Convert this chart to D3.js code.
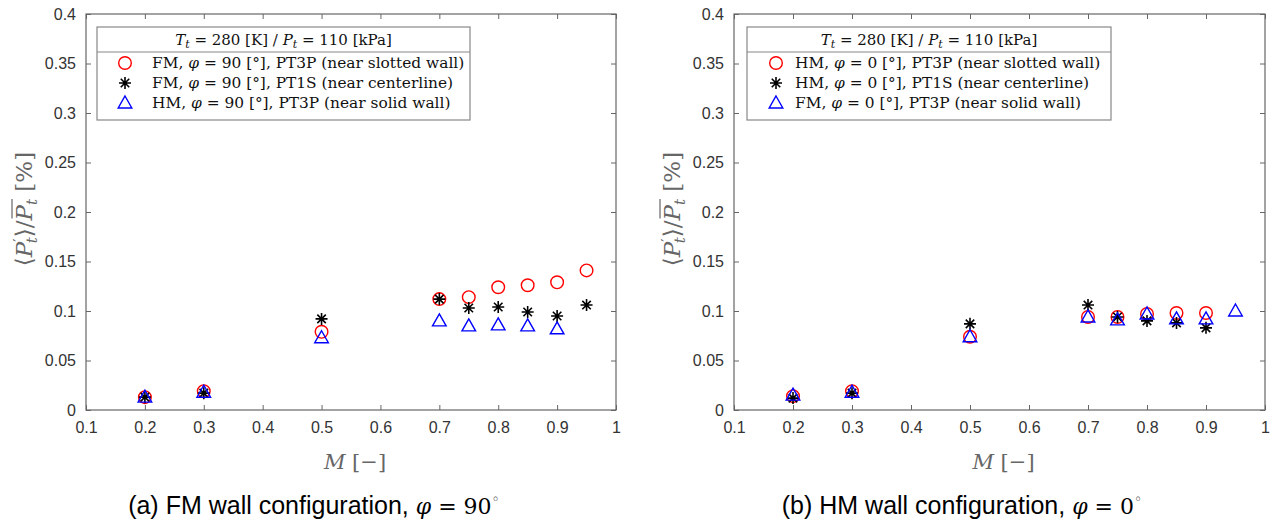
<!DOCTYPE html>
<html>
<head>
<meta charset="utf-8">
<script src="https://cdn.jsdelivr.net/npm/d3@7"></script>
<style>
  body { margin: 0; background: #fff; }
  svg { display: block; }
</style>
</head>
<body>
<div id="chart"></div>
<script>
// Mach numbers (x values) shared by every series
const machs = [0.2, 0.3, 0.5, 0.7, 0.75, 0.8, 0.85, 0.9, 0.95];

// panel (a): FM wall, phi = 90
const aSlotted = [0.013, 0.019, 0.079, 0.112, 0.114, 0.124, 0.126, 0.129, 0.141];
const aCenter  = [0.013, 0.017, 0.092, 0.112, 0.103, 0.104, 0.099, 0.095, 0.106];
const aSolid   = [0.013, 0.018, 0.073, 0.090, 0.085, 0.086, 0.085, 0.082, null];

// panel (b): HM wall, phi = 0
const bSlotted = [0.014, 0.019, 0.074, 0.094, 0.094, 0.097, 0.098, 0.098, null];
const bCenter  = [0.012, 0.017, 0.087, 0.106, 0.094, 0.090, 0.088, 0.083, null];
const bSolid   = [0.015, 0.018, 0.074, 0.094, 0.091, 0.097, 0.092, 0.092, 0.100];

// tick labels
const xTicks = [0.1, 0.2, 0.3, 0.4, 0.5, 0.6, 0.7, 0.8, 0.9, 1];
const yTicks = [0, 0.05, 0.1, 0.15, 0.2, 0.25, 0.3, 0.35, 0.4];

// legend labels (text before phi, text after phi)
const aLegend = [
  ["FM, ", " = 90 [°], PT3P (near slotted wall)"],
  ["FM, ", " = 90 [°], PT1S (near centerline)"],
  ["HM, ", " = 90 [°], PT3P (near solid wall)"]
];
const bLegend = [
  ["HM, ", " = 0 [°], PT3P (near slotted wall)"],
  ["HM, ", " = 0 [°], PT1S (near centerline)"],
  ["FM, ", " = 0 [°], PT3P (near solid wall)"]
];
const captions = [
  ["(a) FM wall configuration, ", "90"],
  ["(b) HM wall configuration, ", "0"]
];

const width = 1275, height = 525;
const serif = "'DejaVu Serif', 'Liberation Serif', serif";
const sans = "'Liberation Sans', Arial, sans-serif";
const axisColor = "#666";
const tickColor = "#333";

const svg = d3.select("#chart").append("svg")
  .attr("width", width)
  .attr("height", height);

// layout per panel
const panels = [
  { x0: 86, x1: 616, series: [aSlotted, aCenter, aSolid], legend: aLegend, caption: captions[0],
    leg: { x: 97, w: 373, mx: 125, tx: 152 }, ylabX: 24, capX: 314 },
  { x0: 734, x1: 1265, series: [bSlotted, bCenter, bSolid], legend: bLegend, caption: captions[1],
    leg: { x: 747, w: 364, mx: 776, tx: 795 }, ylabX: 672, capX: 962 }
];
const yTop = 14, yBot = 410;

// marker drawers
function drawCircle(g) {
  g.append("circle").attr("r", 6.3)
    .attr("fill", "none").attr("stroke", "#ff0000").attr("stroke-width", 1.4);
}
function drawStar(g) {
  const r = 6, d = r * Math.SQRT1_2;
  g.append("path")
    .attr("d", `M${-r},0L${r},0M0,${-r}L0,${r}M${-d},${-d}L${d},${d}M${-d},${d}L${d},${-d}`)
    .attr("stroke", "#000").attr("stroke-width", 1.6).attr("fill", "none");
}
function drawTriangle(g) {
  g.append("path")
    .attr("d", "M0,-7L6.8,5L-6.8,5Z")
    .attr("fill", "none").attr("stroke", "#0000ff").attr("stroke-width", 1.4);
}
const drawers = [drawCircle, drawStar, drawTriangle];

panels.forEach(p => {
  const x = d3.scaleLinear().domain([0.1, 1]).range([p.x0, p.x1]);
  const y = d3.scaleLinear().domain([0, 0.4]).range([yBot, yTop]);
  const g = svg.append("g");

  // box
  g.append("rect")
    .attr("x", p.x0).attr("y", yTop)
    .attr("width", p.x1 - p.x0).attr("height", yBot - yTop)
    .attr("fill", "none").attr("stroke", axisColor).attr("stroke-width", 1.2);

  // bottom axis with inward ticks
  const xAxis = g.append("g").attr("transform", `translate(0,${yBot})`)
    .call(d3.axisBottom(x).tickValues(xTicks).tickSize(-5).tickPadding(12)
      .tickFormat(d => d === 1 ? "1" : d3.format(".1f")(d)));
  xAxis.select(".domain").remove();
  xAxis.selectAll("line").attr("stroke", axisColor);
  xAxis.selectAll("text").attr("fill", tickColor).style("font-family", sans).style("font-size", "16px");

  // top ticks
  const xTop = g.append("g").attr("transform", `translate(0,${yTop})`)
    .call(d3.axisTop(x).tickValues(xTicks).tickSize(-5).tickFormat(""));
  xTop.select(".domain").remove();
  xTop.selectAll("line").attr("stroke", axisColor);

  // left axis
  const yAxis = g.append("g").attr("transform", `translate(${p.x0},0)`)
    .call(d3.axisLeft(y).tickValues(yTicks).tickSize(-5).tickPadding(10)
      .tickFormat(d => d === 0 ? "0" : String(+d.toFixed(2))));
  yAxis.select(".domain").remove();
  yAxis.selectAll("line").attr("stroke", axisColor);
  yAxis.selectAll("text").attr("fill", tickColor).style("font-family", sans).style("font-size", "16px");

  // right ticks
  const yRight = g.append("g").attr("transform", `translate(${p.x1},0)`)
    .call(d3.axisRight(y).tickValues(yTicks).tickSize(-5).tickFormat(""));
  yRight.select(".domain").remove();
  yRight.selectAll("line").attr("stroke", axisColor);

  // data markers, in series order (circles, stars, triangles)
  p.series.forEach((vals, si) => {
    const pts = machs.map((m, i) => ({ m, v: vals[i] })).filter(d => d.v != null);
    g.append("g").selectAll("g")
      .data(pts)
      .enter()
      .append("g")
      .attr("transform", d => `translate(${x(d.m)},${y(d.v)})`)
      .each(function () { drawers[si](d3.select(this)); });
  });

  // legend
  const L = p.leg, ly = 27, lh = 93, sepY = 52;
  g.append("rect").attr("x", L.x).attr("y", ly).attr("width", L.w).attr("height", lh)
    .attr("fill", "#fff").attr("stroke", "#888").attr("stroke-width", 1.2);
  g.append("line").attr("x1", L.x).attr("x2", L.x + L.w).attr("y1", sepY).attr("y2", sepY)
    .attr("stroke", "#888").attr("stroke-width", 1.2);

  const head = g.append("text")
    .attr("x", L.x + L.w / 2).attr("y", 45)
    .attr("text-anchor", "middle")
    .style("font-family", serif).style("font-size", "15px").attr("fill", "#111");
  head.append("tspan").attr("font-style", "italic").text("T");
  head.append("tspan").attr("font-style", "italic").attr("font-size", "11px").attr("dy", 3).text("t");
  head.append("tspan").attr("dy", -3).text(" = 280 [K] / ");
  head.append("tspan").attr("font-style", "italic").text("P");
  head.append("tspan").attr("font-style", "italic").attr("font-size", "11px").attr("dy", 3).text("t");
  head.append("tspan").attr("dy", -3).text(" = 110 [kPa]");

  p.legend.forEach((lab, i) => {
    const cy = 63 + i * 20;
    drawers[i](g.append("g").attr("transform", `translate(${L.mx},${cy})`));
    const t = g.append("text").attr("x", L.tx).attr("y", cy + 5)
      .style("font-family", serif).style("font-size", "15.4px").attr("fill", "#111");
    t.append("tspan").text(lab[0]);
    t.append("tspan").attr("font-style", "italic").text("φ");
    t.append("tspan").text(lab[1]);
  });

  // x label
  const xl = g.append("text")
    .attr("x", (p.x0 + p.x1) / 2 + 4).attr("y", 469)
    .attr("text-anchor", "middle")
    .style("font-family", serif).style("font-size", "21px").attr("fill", "#666");
  xl.append("tspan").attr("font-style", "italic").text("M");
  xl.append("tspan").text(" [−]");

  // y label (rotated)
  const yg = g.append("g").attr("transform", `translate(${p.ylabX},${(yTop + yBot) / 2}) rotate(-90)`);
  const yl = yg.append("text")
    .attr("x", 3).attr("y", 8)
    .attr("text-anchor", "middle")
    .style("font-family", serif).style("font-size", "23px").attr("fill", "#666");
  yl.append("tspan").text("⟨");
  yl.append("tspan").attr("font-style", "italic").text("P");
  yl.append("tspan").attr("font-size", "15px").attr("dy", -8).text("′");
  yl.append("tspan").attr("font-style", "italic").attr("font-size", "15px").attr("dx", -5).attr("dy", 13).text("t");
  yl.append("tspan").attr("dy", -5).text("⟩/");
  yl.append("tspan").attr("font-style", "italic").text("P");
  yl.append("tspan").attr("font-style", "italic").attr("font-size", "15px").attr("dy", 5).text("t");
  yl.append("tspan").attr("dy", -5).text(" [%]");
  // overline over the second P_t
  const node = yl.node();
  const txt = node.textContent;
  const i0 = txt.indexOf("/") + 1;
  const e0 = node.getExtentOfChar(i0), e1 = node.getExtentOfChar(i0 + 1);
  yg.append("line")
    .attr("x1", e0.x + 2).attr("x2", e1.x + e1.width)
    .attr("y1", e0.y + 1).attr("y2", e0.y + 1)
    .attr("stroke", "#666").attr("stroke-width", 1.2);

  // caption
  const cap = svg.append("text")
    .attr("x", p.capX).attr("y", 514)
    .attr("text-anchor", "middle")
    .style("font-family", sans).style("font-size", "25px").attr("fill", "#000");
  cap.append("tspan").text(p.caption[0]);
  cap.append("tspan").style("font-family", serif).attr("font-size", "22px").attr("font-style", "italic").text("φ");
  cap.append("tspan").style("font-family", serif).attr("font-size", "22px").text(" = " + p.caption[1]);
  cap.append("tspan").style("font-family", serif).attr("font-size", "14px").attr("dy", -10).text("◦");
});
</script>
</body>
</html>
